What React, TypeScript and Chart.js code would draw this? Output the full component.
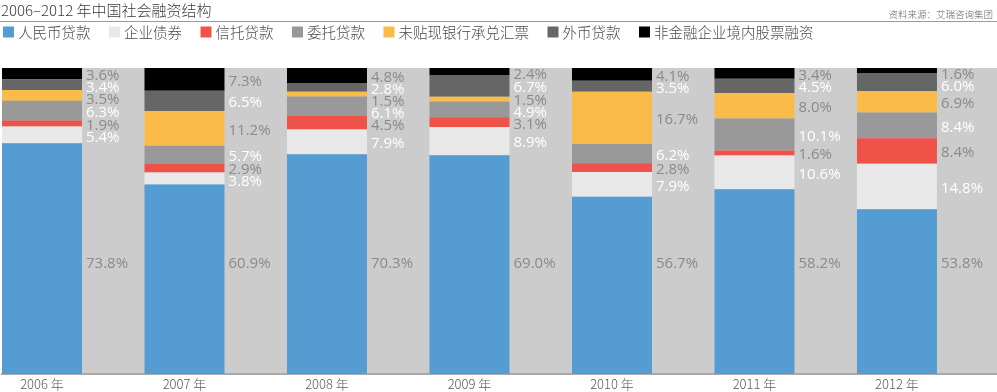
import React, { useEffect, useRef } from 'react';
import { Chart, registerables } from 'chart.js';

Chart.register(...registerables);

const TITLE = '2006–2012 年中国社会融资结构';
const SOURCE = '资料来源：艾瑞咨询集团';
const YEARS = ['2006 年', '2007 年', '2008 年', '2009 年', '2010 年', '2011 年', '2012 年'];
const SERIES_NAMES = ['人民币贷款', '企业债券', '信托贷款', '委托贷款', '未贴现银行承兑汇票', '外币贷款', '非金融企业境内股票融资'];
const SERIES_COLORS = ['#559cd3', '#e8e8e8', '#ef5249', '#999999', '#fbbb48', '#666666', '#000000'];

const RMB_LOANS = [73.8, 60.9, 70.3, 69.0, 56.7, 58.2, 53.8];
const CORP_BONDS = [5.4, 3.8, 7.9, 8.9, 7.9, 10.6, 14.8];
const TRUST_LOANS = [1.9, 2.9, 4.5, 3.1, 2.8, 1.6, 8.4];
const ENTRUSTED_LOANS = [6.3, 5.7, 6.1, 4.9, 6.2, 10.1, 8.4];
const BANK_ACCEPTANCES = [3.5, 11.2, 1.5, 1.5, 16.7, 8.0, 6.9];
const FX_LOANS = [3.4, 6.5, 2.8, 6.7, 3.5, 4.5, 6.0];
const EQUITY = [3.6, 7.3, 4.8, 2.4, 4.1, 3.4, 1.6];

const SERIES = [RMB_LOANS, CORP_BONDS, TRUST_LOANS, ENTRUSTED_LOANS, BANK_ACCEPTANCES, FX_LOANS, EQUITY];
const MAIN_LABEL_VALUE = 36;

const CJK = '"Noto Sans CJK SC", "Noto Sans", sans-serif';
const NUM = '"Open Sans", "Noto Sans", sans-serif';

const totals = YEARS.map((_, i) => SERIES.reduce((s, arr) => s + arr[i], 0));

const decorPlugin = {
  id: 'decor',
  beforeDraw(chart: any) {
    const { ctx, chartArea } = chart;
    ctx.save();
    // plot background
    ctx.fillStyle = '#cccccc';
    ctx.fillRect(chartArea.left, chartArea.top, chartArea.right - chartArea.left, chartArea.bottom - chartArea.top);
    // title
    ctx.fillStyle = '#3a3a3a';
    ctx.font = `300 15px ${CJK}`;
    ctx.textBaseline = 'middle';
    ctx.textAlign = 'left';
    ctx.fillText(TITLE, 1, 10);
    // source
    ctx.fillStyle = '#666666';
    ctx.font = `300 9.5px ${CJK}`;
    ctx.textAlign = 'right';
    ctx.fillText(SOURCE, 993, 14);
    // rule
    ctx.strokeStyle = '#9a9a9a';
    ctx.lineWidth = 1;
    ctx.beginPath();
    ctx.moveTo(0, 21.5);
    ctx.lineTo(chart.width, 21.5);
    ctx.stroke();
    // legend
    ctx.font = `300 14.5px ${CJK}`;
    ctx.textAlign = 'left';
    let x = 3;
    chart.data.datasets.forEach((ds: any) => {
      ctx.fillStyle = ds.backgroundColor;
      ctx.fillRect(x, 26.5, 11, 11);
      ctx.fillStyle = '#4a4a4a';
      ctx.fillText(ds.label, x + 15, 32.5);
      x += 15 + ctx.measureText(ds.label).width + 18.5;
    });
    ctx.restore();
  },
  afterDatasetsDraw(chart: any) {
    const { ctx, chartArea } = chart;
    const yScale = chart.scales.y;
    ctx.save();
    ctx.font = `15px ${NUM}`;
    ctx.textAlign = 'left';
    ctx.textBaseline = 'middle';
    YEARS.forEach((_, i) => {
      const bar = chart.getDatasetMeta(0).data[i] as any;
      const { x, width } = bar.getProps(['x', 'width'], true);
      const lx = x + width / 2 + 4;
      const bounds: number[] = [0];
      SERIES.forEach((arr, s) => bounds.push(bounds[s] + (arr[i] / totals[i]) * 100));
      let prevY = chartArea.top + 7 - 12;
      for (let s = SERIES.length - 1; s >= 1; s--) {
        const c = (yScale.getPixelForValue(bounds[s]) + yScale.getPixelForValue(bounds[s + 1])) / 2 + 2;
        const y = Math.max(c, prevY + 12);
        prevY = y;
        ctx.fillStyle = s % 2 === 0 ? '#8a8a8a' : '#ffffff';
        ctx.fillText(SERIES[s][i].toFixed(1) + '%', lx, y);
      }
      ctx.fillStyle = '#8a8a8a';
      ctx.fillText(SERIES[0][i].toFixed(1) + '%', lx, yScale.getPixelForValue(MAIN_LABEL_VALUE));
    });
    ctx.restore();
  },
};

export default function App() {
  const canvasRef = useRef<HTMLCanvasElement | null>(null);

  useEffect(() => {
    const canvas = canvasRef.current;
    if (!canvas) return;
    const datasets = SERIES.map((arr, s) => ({
      label: SERIES_NAMES[s],
      data: arr.map((v, i) => ({ x: i, y: (v / totals[i]) * 100 })),
      backgroundColor: SERIES_COLORS[s],
      borderWidth: 0,
      categoryPercentage: 1,
      barPercentage: 0.5614,
    }));
    const chart = new Chart(canvas, {
      type: 'bar',
      data: { datasets },
      plugins: [decorPlugin],
      options: {
        animation: false,
        responsive: false,
        devicePixelRatio: 1,
        layout: { padding: { top: 68, left: 2, right: 0, bottom: 0 } },
        plugins: {
          legend: { display: false },
          title: { display: false },
          tooltip: { enabled: false },
        },
        scales: {
          x: {
            type: 'linear',
            stacked: true,
            offset: false,
            min: -0.2807,
            max: 6.702,
            grid: { display: false, drawTicks: false, offset: false },
            border: { display: true, color: '#aaaaaa', width: 2 },
            ticks: {
              stepSize: 1,
              includeBounds: false,
              autoSkip: false,
              maxRotation: 0,
              padding: 2,
              color: '#5a5a5a',
              font: { family: CJK, size: 13, weight: 300 },
              callback: (v: any) => (Number.isInteger(v) && YEARS[v] ? YEARS[v] : ''),
            },
            afterFit: (scale: any) => {
              scale.height = 18;
            },
          },
          y: {
            stacked: true,
            display: false,
            min: 0,
            max: 100,
          },
        },
      } as any,
    });
    return () => chart.destroy();
  }, []);

  return (
    <div style={{ position: 'fixed', left: 0, top: 0, width: 997, height: 392, background: '#ffffff' }}>
      <canvas ref={canvasRef} width={997} height={392} style={{ display: 'block' }} />
    </div>
  );
}
